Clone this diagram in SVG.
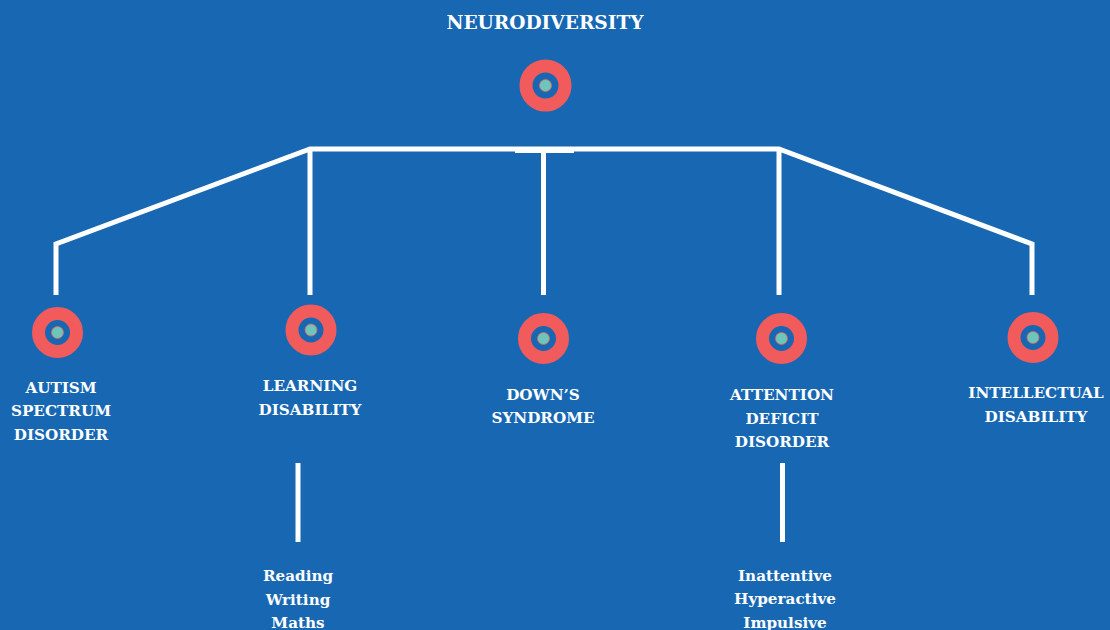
<svg xmlns="http://www.w3.org/2000/svg" width="1110" height="630" viewBox="0 0 1110 630">
  <style>
    .bg { fill: #1767B3; }
    .wire { fill: none; stroke: #FFFFFF; stroke-width: 5; stroke-linejoin: miter; }
    .ring { fill: #1767B3; stroke: #F25B5B; stroke-width: 13; }
    .dot { fill: #6CC6BA; stroke: #F25B5B; stroke-width: 0.8; }
    .label { font-family: "DejaVu Serif", "Liberation Serif", serif; font-weight: bold; fill: #FFFFFF; text-anchor: middle; }
    .title { font-size: 18.6px; }
    .cat { font-size: 15.2px; }
    .sub { font-size: 15.2px; }
  </style>

  <rect class="bg" x="0" y="0" width="1110" height="630"/>

  <!-- connectors -->
  <g id="connectors">
    <path class="wire" d="M56,295 V244 L310,149 H779 L1032,244 V295"/>
    <line class="wire" x1="310" y1="149" x2="310" y2="295"/>
    <line class="wire" x1="543.5" y1="149" x2="543.5" y2="295"/>
    <line class="wire" x1="779" y1="149" x2="779" y2="295"/>
    <rect x="515" y="148" width="59" height="5" fill="#FFFFFF"/>
    <line class="wire" x1="298" y1="463" x2="298" y2="542"/>
    <line class="wire" x1="782.5" y1="463" x2="782.5" y2="542"/>
  </g>

  <!-- root -->
  <g id="neurodiversity">
    <text class="label title" x="545" y="29">NEURODIVERSITY</text>
    <circle class="ring" cx="545.5" cy="85.5" r="19.5"/>
    <circle class="dot" cx="545.5" cy="85.5" r="6"/>
  </g>

  <g id="autism">
    <circle class="ring" cx="57.5" cy="332.5" r="19"/>
    <circle class="dot" cx="57.5" cy="332.5" r="6"/>
    <text class="label cat" x="61" y="393">AUTISM</text>
    <text class="label cat" x="61" y="416">SPECTRUM</text>
    <text class="label cat" x="61" y="440">DISORDER</text>
  </g>

  <g id="learning">
    <circle class="ring" cx="311" cy="330" r="19"/>
    <circle class="dot" cx="311" cy="330" r="6"/>
    <text class="label cat" x="310" y="391">LEARNING</text>
    <text class="label cat" x="310" y="415">DISABILITY</text>
  </g>

  <g id="downs">
    <circle class="ring" cx="543.5" cy="338.5" r="19"/>
    <circle class="dot" cx="543.5" cy="338.5" r="6"/>
    <text class="label cat" x="543" y="400">DOWN’S</text>
    <text class="label cat" x="543" y="423">SYNDROME</text>
  </g>

  <g id="attention">
    <circle class="ring" cx="781.5" cy="338.5" r="19"/>
    <circle class="dot" cx="781.5" cy="338.5" r="6"/>
    <text class="label cat" x="782" y="400">ATTENTION</text>
    <text class="label cat" x="782" y="424">DEFICIT</text>
    <text class="label cat" x="782" y="447">DISORDER</text>
  </g>

  <g id="intellectual">
    <circle class="ring" cx="1033" cy="337.5" r="19"/>
    <circle class="dot" cx="1033" cy="337.5" r="6"/>
    <text class="label cat" x="1036" y="398">INTELLECTUAL</text>
    <text class="label cat" x="1036" y="422">DISABILITY</text>
  </g>

  <g id="learning-types">
    <text class="label sub" x="298" y="581">Reading</text>
    <text class="label sub" x="298" y="605">Writing</text>
    <text class="label sub" x="298" y="628">Maths</text>
  </g>

  <g id="attention-types">
    <text class="label sub" x="785" y="581">Inattentive</text>
    <text class="label sub" x="785" y="604">Hyperactive</text>
    <text class="label sub" x="785" y="628">Impulsive</text>
  </g>
</svg>
